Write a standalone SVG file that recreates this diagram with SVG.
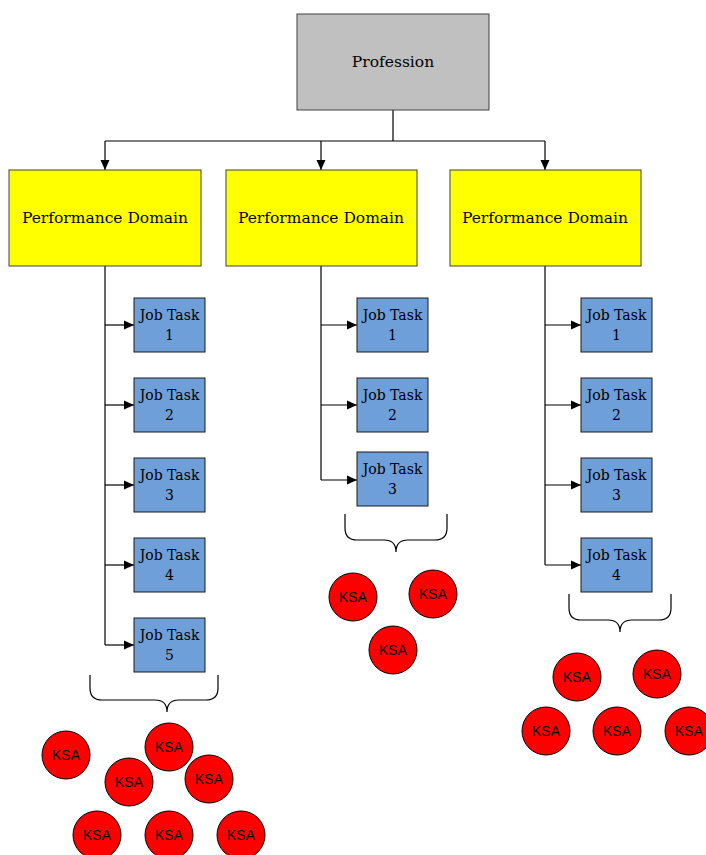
<svg xmlns="http://www.w3.org/2000/svg" width="706" height="855" viewBox="0 0 706 855">
<defs>
<marker id="arr" markerWidth="10" markerHeight="10" refX="10" refY="5" orient="auto" markerUnits="userSpaceOnUse">
<path d="M0,0.5 L10,5 L0,9.5 Z" fill="#000"/>
</marker>
<style>
.prof{fill:#c0c0c0;stroke:#404040;stroke-width:1}
.dom{fill:#ffff00;stroke:#404040;stroke-width:1}
.task{fill:#6f9fd9;stroke:#1a1a1a;stroke-width:1}
.ksa{fill:#ff0000;stroke:#000;stroke-width:1}
.t{font-family:"DejaVu Serif","Liberation Serif",serif;fill:#000;text-anchor:middle}
.big{font-size:15.5px}
.small{font-size:14px}
.k{font-family:"Liberation Sans",Arial,sans-serif;font-size:14px;fill:#000;text-anchor:middle}
.ln{fill:none;stroke:#000;stroke-width:1.2}
.br{fill:none;stroke:#000;stroke-width:1.2}
</style>
</defs>
<rect width="706" height="855" fill="#fff"/>

<g id="connectors">
<path class="ln" d="M393,110 V141 M105,141 H545"/>
<path class="ln" d="M105,141 V170" marker-end="url(#arr)"/>
<path class="ln" d="M321,141 V170" marker-end="url(#arr)"/>
<path class="ln" d="M545,141 V170" marker-end="url(#arr)"/>
<path class="ln" d="M105,266 V645"/>
<path class="ln" d="M105,325 H134" marker-end="url(#arr)"/>
<path class="ln" d="M105,405 H134" marker-end="url(#arr)"/>
<path class="ln" d="M105,485 H134" marker-end="url(#arr)"/>
<path class="ln" d="M105,565 H134" marker-end="url(#arr)"/>
<path class="ln" d="M105,645 H134" marker-end="url(#arr)"/>
<path class="ln" d="M321,266 V480"/>
<path class="ln" d="M321,325 H357" marker-end="url(#arr)"/>
<path class="ln" d="M321,405 H357" marker-end="url(#arr)"/>
<path class="ln" d="M321,480 H357" marker-end="url(#arr)"/>
<path class="ln" d="M545,266 V565"/>
<path class="ln" d="M545,325 H581" marker-end="url(#arr)"/>
<path class="ln" d="M545,405 H581" marker-end="url(#arr)"/>
<path class="ln" d="M545,485 H581" marker-end="url(#arr)"/>
<path class="ln" d="M545,565 H581" marker-end="url(#arr)"/>
</g>

<g id="profession">
<rect class="prof" x="297" y="14" width="192" height="96"/>
<text class="t big" x="393" y="67">Profession</text>
</g>

<g id="domain1">
<rect class="dom" x="9" y="170" width="192" height="96"/>
<text class="t big" x="105" y="223">Performance Domain</text>
</g>
<g id="domain2">
<rect class="dom" x="226" y="170" width="191" height="96"/>
<text class="t big" x="321" y="223">Performance Domain</text>
</g>
<g id="domain3">
<rect class="dom" x="450" y="170" width="191" height="96"/>
<text class="t big" x="545" y="223">Performance Domain</text>
</g>

<g id="task1-1"><rect class="task" x="134" y="298" width="71" height="54"/><text class="t small" x="169.5" y="320">Job Task</text><text class="t small" x="169.5" y="340">1</text></g>
<g id="task1-2"><rect class="task" x="134" y="378" width="71" height="54"/><text class="t small" x="169.5" y="400">Job Task</text><text class="t small" x="169.5" y="420">2</text></g>
<g id="task1-3"><rect class="task" x="134" y="458" width="71" height="54"/><text class="t small" x="169.5" y="480">Job Task</text><text class="t small" x="169.5" y="500">3</text></g>
<g id="task1-4"><rect class="task" x="134" y="538" width="71" height="54"/><text class="t small" x="169.5" y="560">Job Task</text><text class="t small" x="169.5" y="580">4</text></g>
<g id="task1-5"><rect class="task" x="134" y="618" width="71" height="54"/><text class="t small" x="169.5" y="640">Job Task</text><text class="t small" x="169.5" y="660">5</text></g>

<g id="task2-1"><rect class="task" x="357" y="298" width="71" height="54"/><text class="t small" x="392.5" y="320">Job Task</text><text class="t small" x="392.5" y="340">1</text></g>
<g id="task2-2"><rect class="task" x="357" y="378" width="71" height="54"/><text class="t small" x="392.5" y="400">Job Task</text><text class="t small" x="392.5" y="420">2</text></g>
<g id="task2-3"><rect class="task" x="357" y="452" width="71" height="54"/><text class="t small" x="392.5" y="474">Job Task</text><text class="t small" x="392.5" y="494">3</text></g>

<g id="task3-1"><rect class="task" x="581" y="298" width="71" height="54"/><text class="t small" x="616.5" y="320">Job Task</text><text class="t small" x="616.5" y="340">1</text></g>
<g id="task3-2"><rect class="task" x="581" y="378" width="71" height="54"/><text class="t small" x="616.5" y="400">Job Task</text><text class="t small" x="616.5" y="420">2</text></g>
<g id="task3-3"><rect class="task" x="581" y="458" width="71" height="54"/><text class="t small" x="616.5" y="480">Job Task</text><text class="t small" x="616.5" y="500">3</text></g>
<g id="task3-4"><rect class="task" x="581" y="538" width="71" height="54"/><text class="t small" x="616.5" y="560">Job Task</text><text class="t small" x="616.5" y="580">4</text></g>

<g id="braces">
<path class="br" d="M90,675 V688 Q90,700 102,700 H155 Q167,700 167,712 Q167,700 179,700 H206 Q218,700 218,688 V675"/>
<path class="br" d="M345,514 V528 Q345,540 357,540 H384 Q396,540 396,552 Q396,540 408,540 H435 Q447,540 447,528 V514"/>
<path class="br" d="M569,594 V608 Q569,620 581,620 H608 Q620,620 620,632 Q620,620 632,620 H659 Q671,620 671,608 V594"/>
</g>

<g id="ksa-left">
<circle class="ksa" cx="66" cy="755" r="24"/><text class="k" x="66" y="760">KSA</text>
<circle class="ksa" cx="169" cy="747" r="24"/><text class="k" x="169" y="752">KSA</text>
<circle class="ksa" cx="129" cy="782" r="24"/><text class="k" x="129" y="787">KSA</text>
<circle class="ksa" cx="209" cy="779" r="24"/><text class="k" x="209" y="784">KSA</text>
<circle class="ksa" cx="97" cy="835" r="24"/><text class="k" x="97" y="840">KSA</text>
<circle class="ksa" cx="169" cy="835" r="24"/><text class="k" x="169" y="840">KSA</text>
<circle class="ksa" cx="241" cy="835" r="24"/><text class="k" x="241" y="840">KSA</text>
</g>
<g id="ksa-mid">
<circle class="ksa" cx="353" cy="597" r="24"/><text class="k" x="353" y="602">KSA</text>
<circle class="ksa" cx="433" cy="594" r="24"/><text class="k" x="433" y="599">KSA</text>
<circle class="ksa" cx="393" cy="650" r="24"/><text class="k" x="393" y="655">KSA</text>
</g>
<g id="ksa-right">
<circle class="ksa" cx="577" cy="677" r="24"/><text class="k" x="577" y="682">KSA</text>
<circle class="ksa" cx="657" cy="674" r="24"/><text class="k" x="657" y="679">KSA</text>
<circle class="ksa" cx="546" cy="731" r="24"/><text class="k" x="546" y="736">KSA</text>
<circle class="ksa" cx="617" cy="731" r="24"/><text class="k" x="617" y="736">KSA</text>
<circle class="ksa" cx="689" cy="731" r="24"/><text class="k" x="689" y="736">KSA</text>
</g>
</svg>
